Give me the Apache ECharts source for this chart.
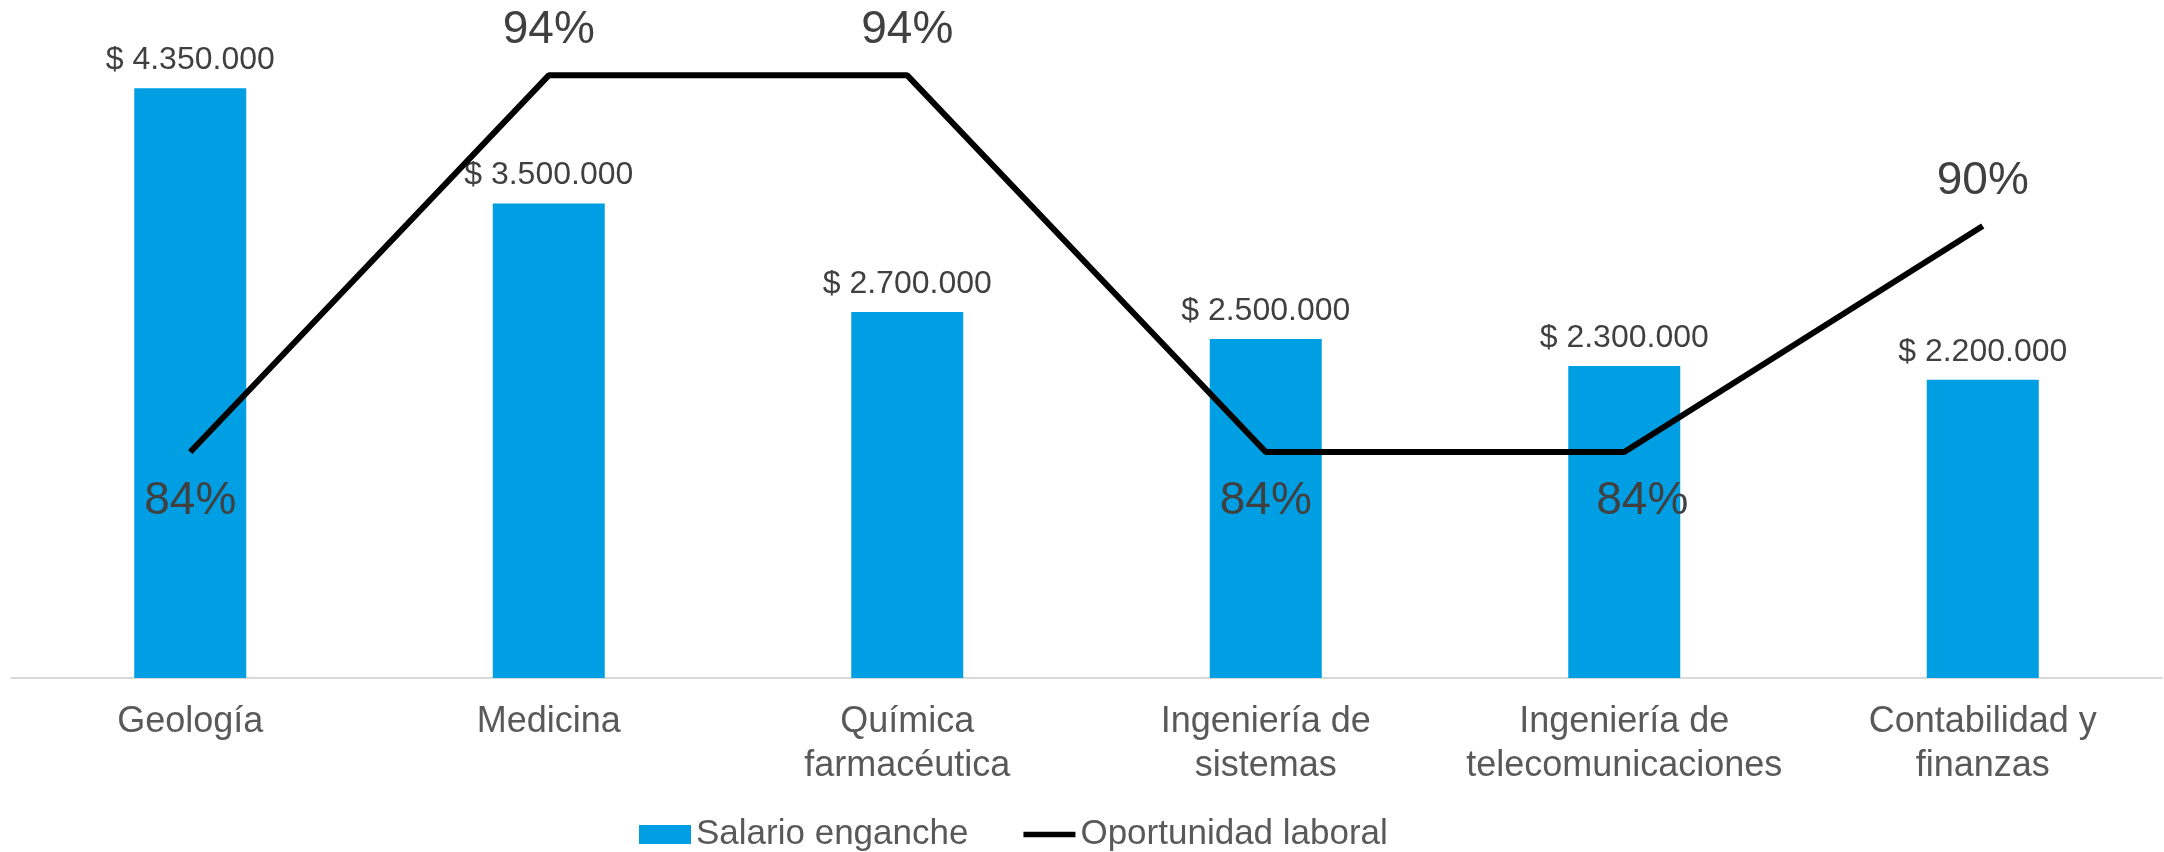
<!DOCTYPE html>
<html>
<head>
<meta charset="utf-8">
<script src="https://cdn.jsdelivr.net/npm/echarts@6/dist/echarts.min.js"></script>
<style>
html,body{margin:0;padding:0;background:#fff;}
#chart{width:2164px;height:852px;}
</style>
</head>
<body>
<div id="chart"></div>
<script>
const categories = ['Geología', 'Medicina', 'Química\nfarmacéutica', 'Ingeniería de\nsistemas', 'Ingeniería de\ntelecomunicaciones', 'Contabilidad y\nfinanzas'];
const salario = [4350000, 3500000, 2700000, 2500000, 2300000, 2200000];
const oportunidad = [0.84, 0.94, 0.94, 0.84, 0.84, 0.90];
const seriesNames = ['Salario enganche', 'Oportunidad laboral'];

// label styling (not data)
const linePos = ['bottom', 'top', 'top', 'bottom', 'bottom', 'top'];
const lineOffset = [[0,4],[0,0],[0,0],[0,4],[18,4],[0,0]];

function fmtMoney(v) {
  return '$ ' + String(Math.round(v)).replace(/\B(?=(\d{3})+(?!\d))/g, '.');
}

const FONT = '"Liberation Sans", Arial, sans-serif';
const chart = echarts.init(document.getElementById('chart'), null, {renderer: 'canvas'});
chart.setOption({
  animation: false,
  backgroundColor: '#ffffff',
  textStyle: {fontFamily: FONT},
  grid: {left: 11, right: 2, top: -4, bottom: 174, containLabel: false},
  legend: {
    left: 634, top: 812,
    itemWidth: 52, itemHeight: 19, itemGap: 55,
    textStyle: {fontSize: 35, color: '#595959', fontFamily: FONT},
    data: [
      {name: seriesNames[0], icon: 'rect'},
      {name: seriesNames[1], icon: 'path://M0,0M0,6.5L56,6.5L56,12.5L0,12.5ZM56,19'}
    ]
  },
  xAxis: {
    type: 'category',
    data: categories,
    axisTick: {show: false},
    axisLine: {lineStyle: {color: '#d9d9d9', width: 2}},
    axisLabel: {fontSize: 36, lineHeight: 44, color: '#595959', margin: 22, fontFamily: FONT, interval: 0}
  },
  yAxis: [
    {type: 'value', min: 0, max: 5000000, show: false, splitLine: {show: false}},
    {type: 'value', min: 0.78, max: 0.96, show: false, splitLine: {show: false}}
  ],
  series: [
    {
      name: seriesNames[0],
      type: 'bar',
      data: salario,
      barWidth: 112,
      itemStyle: {color: '#009FE3'},
      label: {
        show: true, position: 'top', distance: 12,
        fontSize: 32, color: '#404040', fontFamily: FONT,
        formatter: p => fmtMoney(p.value)
      }
    },
    {
      name: seriesNames[1],
      type: 'line',
      yAxisIndex: 1,
      data: oportunidad.map((v, i) => ({value: v, label: {position: linePos[i], offset: lineOffset[i]}})),
      symbol: 'circle',
      symbolSize: 0,
      showSymbol: true,
      lineStyle: {color: '#000000', width: 6},
      itemStyle: {color: '#000000'},
      label: {
        show: true, distance: 22,
        fontSize: 46, color: '#404040', fontFamily: FONT,
        formatter: p => Math.round(p.value * 100) + '%'
      }
    }
  ]
});
</script>
</body>
</html>
